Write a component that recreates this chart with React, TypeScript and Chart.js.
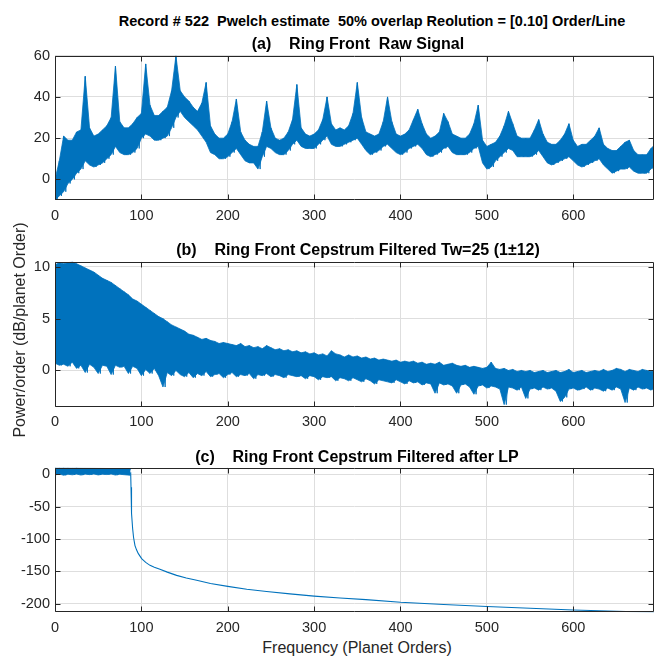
import React, { useEffect, useRef } from "react";
import { Chart, registerables } from "chart.js";

Chart.register(...registerables);

// ---------- data ----------
// sample orders for panels (a) and (b); each sample holds an upper and a lower reading
const ORDERS = [
  0, 5, 10, 15, 20, 25, 30, 35, 40, 45, 50, 55, 60, 65, 70, 75, 80, 85, 90, 95,
  100, 105, 110, 115, 120, 125, 130, 135, 140, 145, 150, 155, 160, 165, 170, 175, 180, 185, 190, 195,
  200, 205, 210, 215, 220, 225, 230, 235, 240, 245, 250, 255, 260, 265, 270, 275, 280, 285, 290, 295,
  300, 305, 310, 315, 320, 325, 330, 335, 340, 345, 350, 355, 360, 365, 370, 375, 380, 385, 390, 395,
  400, 405, 410, 415, 420, 425, 430, 435, 440, 445, 450, 455, 460, 465, 470, 475, 480, 485, 490, 495,
  500, 505, 510, 515, 520, 525, 530, 535, 540, 545, 550, 555, 560, 565, 570, 575, 580, 585, 590, 595,
  600, 605, 610, 615, 620, 625, 630, 635, 640, 645, 650, 655, 660, 665, 670, 675, 680, 685, 690, 695,
];

// (a) Raw signal: upper and lower readings of the trace
const A_HI = [
  0, 9, 21, 19, 19, 23, 24, 50, 25, 21,
  22, 24, 26, 30, 55, 28, 25, 25, 27, 30,
  32, 56, 36, 31, 31, 33, 35, 43, 60, 43,
  40, 38, 35, 33, 37, 47, 26, 22, 20, 20,
  22, 28, 39, 23, 19, 17, 16, 16, 23, 38,
  25, 20, 19, 20, 23, 29, 46, 25, 22, 21,
  22, 24, 29, 40, 27, 24, 25, 24, 26, 32,
  47, 30, 23, 22, 21, 22, 28, 40, 28, 22,
  21, 22, 24, 29, 34, 27, 22, 20, 21, 23,
  32, 28, 22, 21, 20, 20, 22, 27, 36, 19,
  16, 17, 18, 21, 26, 33, 27, 21, 20, 20,
  20, 24, 29, 22, 18, 17, 17, 19, 22, 27,
  19, 16, 17, 17, 19, 21, 25, 17, 15, 14,
  14, 16, 18, 19, 14, 12, 12, 12, 15, 17,
];
const A_LO = [
  -10, -8, -6, -2, 0, 3, 5, 9, 7, 6,
  7, 8, 10, 12, 16, 13, 12, 12, 13, 15,
  20, 22, 21, 19, 19, 20, 21, 25, 30, 33,
  30, 28, 26, 24, 21, 18, 13, 12, 10, 10,
  11, 13, 15, 12, 9, 8, 8, 5, 11, 16,
  15, 13, 12, 12, 14, 17, 19, 16, 15, 15,
  15, 17, 19, 21, 17, 16, 16, 17, 18, 19,
  20, 17, 14, 12, 13, 14, 16, 17, 15, 13,
  12, 13, 15, 16, 17, 15, 12, 11, 12, 13,
  15, 16, 13, 12, 12, 12, 13, 15, 16, 8,
  5, 6, 9, 11, 13, 15, 14, 11, 11, 11,
  11, 12, 14, 11, 8, 7, 8, 9, 10, 11,
  9, 7, 6, 7, 8, 9, 10, 7, 5, 3,
  4, 5, 5, 6, 4, 3, 3, 3, 5, 7,
];

// (b) Cepstrum filtered Tw=25
const B_HI = [
  10.2, 10.4, 10.3, 10.4, 10.5, 10.3, 10.1, 9.9, 9.7, 9.5,
  9.2, 8.9, 8.7, 8.5, 8.2, 7.9, 7.6, 7.3, 6.9, 6.7,
  6.4, 6.1, 5.8, 5.5, 5.2, 5.0, 4.7, 4.4, 4.2, 4.0,
  3.8, 3.5, 3.4, 3.2, 3.0, 3.1, 2.9, 2.8, 2.6, 2.7,
  2.6, 2.5, 2.4, 2.6, 2.3, 2.4, 2.2, 2.3, 2.1, 2.4,
  2.2, 2.0, 2.1, 1.9, 2.0, 1.8, 1.9, 1.7, 1.8, 1.6,
  1.7, 1.5, 1.6, 1.4, 1.9, 1.6, 1.5, 1.3, 1.5, 1.3,
  1.4, 1.2, 1.3, 1.1, 1.2, 1.0, 1.1, 1.0, 0.9, 1.0,
  0.8, 0.9, 0.8, 0.9, 0.7, 0.8, 0.6, 0.7, 0.6, 0.8,
  0.5, 0.6, 0.7, 0.5, 0.4, 0.5, 0.3, 0.4, 0.3, 0.2,
  0.3, 0.8, 0.2, 0.1, 0.2, 0.0, 0.1, -0.1, 0.0, -0.1,
  0.0, -0.2, -0.1, 0.0, -0.2, -0.1, 0.0, -0.2, -0.1, 0.1,
  -0.2, -0.1, 0.0, -0.2, -0.1, 0.0, -0.1, 0.1, -0.1, 0.0,
  0.2, 0.1, -0.1, 0.1, 0.0, -0.1, 0.1, 0.0, -0.1, 0.0,
];
const B_LO = [
  0.7, 0.5, 0.6, 0.4, 0.8, 0.2, 0.5, -0.2, 0.6, 0.3,
  -0.3, 0.5, 0.4, -0.4, 0.5, 0.3, 0.4, -0.3, 0.4, 0.2,
  -0.5, 0.1, -0.3, 0.2, -0.5, -1.6, -0.2, -0.5, 0.0, -0.4,
  -0.6, -0.2, -0.7, -0.3, -0.5, -0.1, -0.6, -0.4, -0.3, -0.7,
  -0.4, -0.2, -0.6, -0.4, -0.5, -0.3, -0.8, -0.4, -0.5, -0.3,
  -0.6, -0.4, -0.5, -0.7, -0.4, -0.5, -0.6, -0.5, -0.8, -0.5,
  -0.6, -0.9, -0.6, -0.7, -0.6, -1.0, -0.7, -0.8, -1.0, -0.7,
  -0.9, -1.1, -0.8, -1.0, -1.3, -0.9, -1.0, -1.1, -1.2, -0.9,
  -1.1, -1.3, -1.0, -1.2, -1.1, -1.4, -1.2, -1.3, -2.2, -1.2,
  -1.4, -1.3, -1.5, -2.2, -1.4, -1.3, -1.6, -2.3, -1.5, -1.4,
  -1.7, -1.5, -1.6, -1.8, -3.3, -1.6, -1.7, -1.9, -1.6, -2.7,
  -1.8, -1.7, -1.9, -1.6, -1.8, -1.7, -2.0, -3.0, -2.6, -1.8,
  -1.7, -1.9, -1.8, -1.6, -1.9, -1.7, -1.8, -2.0, -1.7, -1.9,
  -1.6, -1.8, -3.1, -1.7, -1.9, -1.6, -1.8, -1.7, -1.9, -1.6,
];

// (c) after low-pass: pass band (noisy) and the roll-off curve
const C_BAND_ORDERS = [0, 5, 10, 15, 20, 25, 30, 35, 40, 45, 50, 55, 60, 65, 70, 75, 80, 87.5];
const C_BAND_HI = [10.2, 10.1, 10.2, 10.0, 9.9, 10.1, 9.8, 9.7, 9.6, 9.5, 9.3, 9.2, 9.0, 8.9, 8.8, 8.7, 8.6, 8.6];
const C_BAND_LO = [-1.0, 0.5, -1.5, 0.2, -0.8, 0.4, -1.2, 0.3, -0.5, 0.6, -1.0, 0.2, -0.4, 0.5, -1.2, 0.1, -0.6, -1.5];
const C_CURVE_ORDERS = [
  87.6, 88.0, 88.4, 88.8, 89.9, 91, 92.6, 94.5, 96.5, 100.3, 105, 110, 115, 121.5, 130, 140.8,
  152, 164, 180, 200, 222, 245, 272, 300, 330, 360, 400, 450, 500, 550, 600, 650, 693.5,
];
const C_CURVE_VALUES = [
  3, -20, -45, -60, -84, -98, -110, -117, -122.5, -130, -136, -140.5, -143.5, -146.6, -151, -156,
  -160, -163.6, -168.5, -173, -177.5, -181, -184.5, -188, -191, -193.5, -197.6, -201, -204, -206.8, -209.4, -211.3, -213,
];

// axes
const X_MAX = 693.5;
const X_TICKS = [0, 100, 200, 300, 400, 500, 600];
const A_Y_TICKS = [0, 20, 40, 60];
const B_Y_TICKS = [0, 5, 10];
const C_Y_TICKS = [-200, -150, -100, -50, 0];

// texts
const MAIN_TITLE = "Record # 522  Pwelch estimate  50% overlap Reolution = [0.10] Order/Line";
const TITLE_A = "(a)    Ring Front  Raw Signal";
const TITLE_B = "(b)    Ring Front Cepstrum Filtered Tw=25 (1±12)";
const TITLE_C = "(c)    Ring Front Cepstrum Filtered after LP";
const Y_LABEL = "Power/order (dB/planet Order)";
const X_LABEL = "Frequency (Planet Orders)";

// ---------- styling ----------
const BLUE = "#0072BD";
const AXIS = "#262626";
const GRID = "#dedede";
const FONT = "'Liberation Sans', Arial, Helvetica, sans-serif";
const W = 655;
const AREA_LEFT = 55;
const AREA_RIGHT = 654;

function pairs(xs: number[], ys: number[]) {
  return xs.map((x, i) => ({ x, y: ys[i] }));
}

// the same readings as one trace, alternating upper / lower reading
function trace(xs: number[], hi: number[], lo: number[]) {
  const pts: { x: number; y: number }[] = [];
  for (let i = 0; i < xs.length; i++) {
    pts.push({ x: xs[i], y: hi[i] });
    if (i < xs.length - 1) pts.push({ x: (xs[i] + xs[i + 1]) / 2, y: lo[i] });
  }
  return pts;
}

// a dense trace drawn as the band between its upper and lower readings, with the trace on top
function band(xs: number[], hi: number[], lo: number[]) {
  return [
    {
      data: pairs(xs, hi),
      borderColor: BLUE,
      backgroundColor: BLUE,
      borderWidth: 0.8,
      borderJoinStyle: "bevel",
      pointRadius: 0,
      fill: "+1",
    },
    {
      data: pairs(xs, lo),
      borderColor: BLUE,
      backgroundColor: BLUE,
      borderWidth: 0.8,
      borderJoinStyle: "bevel",
      pointRadius: 0,
      fill: false,
    },
    {
      data: trace(xs, hi, lo),
      borderColor: BLUE,
      borderWidth: 0.9,
      borderJoinStyle: "bevel",
      pointRadius: 0,
      fill: false,
    },
  ];
}

const boxPlugin = {
  id: "matlabBox",
  afterDraw(chart: any) {
    const { ctx, chartArea } = chart;
    const { left, right, top, bottom } = chartArea;
    const xs = chart.scales.x;
    const ys = chart.scales.y;
    const L = Math.round(left) + 0.5;
    const R = Math.round(right) - 0.5;
    const T = Math.round(top) + 0.5;
    const B = Math.round(bottom) - 0.5;
    ctx.save();
    ctx.strokeStyle = AXIS;
    ctx.lineWidth = 1;
    ctx.beginPath();
    ctx.rect(L, T, R - L, B - T);
    const tl = 5;
    for (const t of xs.ticks) {
      const px = Math.round(xs.getPixelForValue(t.value)) + 0.5;
      ctx.moveTo(px, B);
      ctx.lineTo(px, B - tl);
      ctx.moveTo(px, T);
      ctx.lineTo(px, T + tl);
    }
    for (const t of ys.ticks) {
      const py = Math.round(ys.getPixelForValue(t.value)) + 0.5;
      ctx.moveTo(L, py);
      ctx.lineTo(L + tl, py);
      ctx.moveTo(R, py);
      ctx.lineTo(R - tl, py);
    }
    ctx.stroke();
    ctx.restore();
  },
};

type PanelSpec = {
  top: number;
  height: number;
  areaTop: number;
  areaBottom: number;
  yMin: number;
  yMax: number;
  yTicks: number[];
  datasets: any[];
};

function Panel({ spec }: { spec: PanelSpec }) {
  const ref = useRef<HTMLCanvasElement>(null);
  useEffect(() => {
    if (!ref.current) return;
    const tickFont = { family: FONT, size: 14.5 };
    const chart = new Chart(ref.current, {
      type: "line",
      data: { datasets: spec.datasets },
      options: {
        animation: false,
        responsive: false,
        devicePixelRatio: 1,
        parsing: false,
        normalized: true,
        events: [],
        layout: {
          padding: { top: spec.areaTop - spec.top, right: W - AREA_RIGHT, left: 0, bottom: 0 },
        },
        plugins: {
          legend: { display: false },
          tooltip: { enabled: false },
          title: { display: false },
          filler: { propagate: false },
        },
        elements: { point: { radius: 0 }, line: { tension: 0 } },
        scales: {
          x: {
            type: "linear",
            min: 0,
            max: X_MAX,
            afterBuildTicks: (s: any) => {
              s.ticks = X_TICKS.map((v) => ({ value: v }));
            },
            afterFit: (s: any) => {
              s.height = spec.top + spec.height - spec.areaBottom;
            },
            grid: { color: GRID, lineWidth: 1, drawTicks: false },
            border: { display: false },
            ticks: { color: AXIS, font: tickFont, padding: 7, maxRotation: 0, autoSkip: false },
          },
          y: {
            type: "linear",
            min: spec.yMin,
            max: spec.yMax,
            afterBuildTicks: (s: any) => {
              s.ticks = spec.yTicks.map((v) => ({ value: v }));
            },
            afterFit: (s: any) => {
              s.width = AREA_LEFT;
            },
            grid: { color: GRID, lineWidth: 1, drawTicks: false },
            border: { display: false },
            ticks: { color: AXIS, font: tickFont, padding: 5, autoSkip: false },
          },
        },
      } as any,
      plugins: [boxPlugin],
    });
    return () => chart.destroy();
  }, []);
  return (
    <canvas
      ref={ref}
      width={W}
      height={spec.height}
      style={{ position: "absolute", left: 0, top: spec.top, display: "block" }}
    />
  );
}

const PANEL_A: PanelSpec = {
  top: 40,
  height: 190,
  areaTop: 55.7,
  areaBottom: 200,
  yMin: -10,
  yMax: 60,
  yTicks: A_Y_TICKS,
  datasets: band(ORDERS, A_HI, A_LO),
};

const PANEL_B: PanelSpec = {
  top: 240,
  height: 190,
  areaTop: 261.7,
  areaBottom: 406.7,
  yMin: -3.5,
  yMax: 10.5,
  yTicks: B_Y_TICKS,
  datasets: band(ORDERS, B_HI, B_LO),
};

const PANEL_C: PanelSpec = {
  top: 445,
  height: 190,
  areaTop: 467.7,
  areaBottom: 612.3,
  yMin: -213,
  yMax: 10.2,
  yTicks: C_Y_TICKS,
  datasets: [
    ...band(C_BAND_ORDERS, C_BAND_HI, C_BAND_LO),
    {
      data: pairs(C_CURVE_ORDERS, C_CURVE_VALUES),
      borderColor: BLUE,
      borderWidth: 1.1,
      pointRadius: 0,
      fill: false,
    },
  ],
};

function CenteredText({
  text,
  cx,
  cy,
  size,
  bold,
  color,
}: {
  text: string;
  cx: number;
  cy: number;
  size: number;
  bold?: boolean;
  color: string;
}) {
  const w = 640;
  const h = 20;
  return (
    <div
      style={{
        position: "absolute",
        left: cx - w / 2,
        top: cy - h / 2,
        width: w,
        height: h,
        lineHeight: h + "px",
        textAlign: "center",
        whiteSpace: "pre",
        fontFamily: FONT,
        fontSize: size,
        fontWeight: bold ? 700 : 400,
        color,
        zIndex: 2,
        pointerEvents: "none",
      }}
    >
      {text}
    </div>
  );
}

export default function App() {
  return (
    <div
      style={{
        position: "absolute",
        left: 0,
        top: 0,
        width: W,
        height: 657,
        background: "#ffffff",
        overflow: "hidden",
      }}
    >
      <Panel spec={PANEL_A} />
      <Panel spec={PANEL_B} />
      <Panel spec={PANEL_C} />
      <CenteredText text={MAIN_TITLE} cx={372} cy={21} size={14.5} bold color="#000000" />
      <CenteredText text={TITLE_A} cx={358} cy={43.5} size={16} bold color="#000000" />
      <CenteredText text={TITLE_B} cx={358} cy={250.4} size={16} bold color="#000000" />
      <CenteredText text={TITLE_C} cx={357} cy={456.5} size={16} bold color="#000000" />
      <CenteredText text={X_LABEL} cx={357} cy={648} size={16} color={AXIS} />
      <div
        style={{
          position: "absolute",
          left: 20 - 160,
          top: 330 - 10,
          width: 320,
          height: 20,
          lineHeight: "20px",
          textAlign: "center",
          whiteSpace: "pre",
          fontFamily: FONT,
          fontSize: 16,
          color: AXIS,
          transform: "rotate(-90deg)",
          transformOrigin: "50% 50%",
          zIndex: 2,
        }}
      >
        {Y_LABEL}
      </div>
    </div>
  );
}
